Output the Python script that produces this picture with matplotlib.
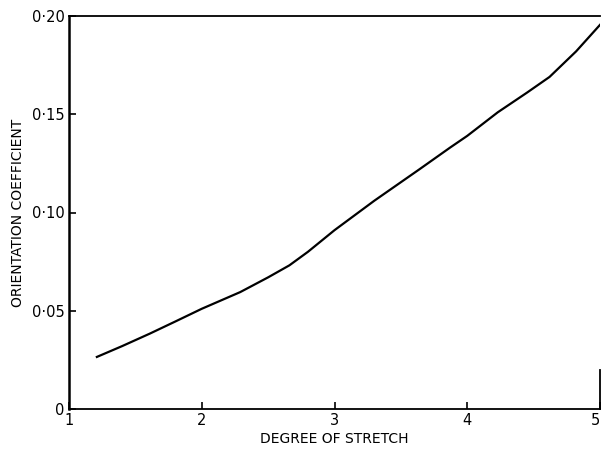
import numpy as np
import matplotlib.pyplot as plt

plt.rcParams["font.family"] = "DejaVu Sans"

# curve
stretch = [1.21, 1.40, 1.61, 1.80, 2.00, 2.29, 2.50, 2.66, 2.80, 3.00, 3.09, 3.30,
           3.64, 3.87, 4.00, 4.23, 4.45, 4.62, 4.82, 5.00]
orient = [0.0265, 0.032, 0.0384, 0.0445, 0.051, 0.0595, 0.067, 0.0731, 0.080, 0.091, 0.0955, 0.106,
          0.122, 0.133, 0.139, 0.151, 0.161, 0.169, 0.182, 0.1955]

xticks = [1, 2, 3, 4, 5]
yticks = [0, 0.05, 0.10, 0.15, 0.20]
ylabels = ["0", "0·05", "0·10", "0·15", "0·20"]

fig = plt.figure(figsize=(6.01, 4.5), dpi=100)
ax = fig.add_axes([69/601, 1-409/450, 531/601, 393/450])

ax.plot(stretch, orient, color="black", lw=1.6)

ax.set_xlim(1, 5)
ax.set_ylim(0, 0.20)
ax.set_xticks(xticks)
ax.set_xticklabels([str(t) for t in xticks], fontsize=10.5)
ax.get_xticklabels()[-1].set_horizontalalignment("right")
ax.set_yticks(yticks)
ax.set_yticklabels(ylabels, fontsize=10.5)
ax.tick_params(direction="in", length=5, width=1.2, pad=3)

ax.spines["left"].set_linewidth(1.8)
ax.spines["bottom"].set_linewidth(1.3)
ax.spines["top"].set_linewidth(1.3)
ax.spines["right"].set_linewidth(1.3)
ax.spines["right"].set_bounds(0, 0.02)

ax.set_xlabel("DEGREE OF STRETCH", fontsize=10, labelpad=3)
ax.set_ylabel("ORIENTATION COEFFICIENT", fontsize=10, labelpad=5)

fig.savefig("out.png", dpi=100)
